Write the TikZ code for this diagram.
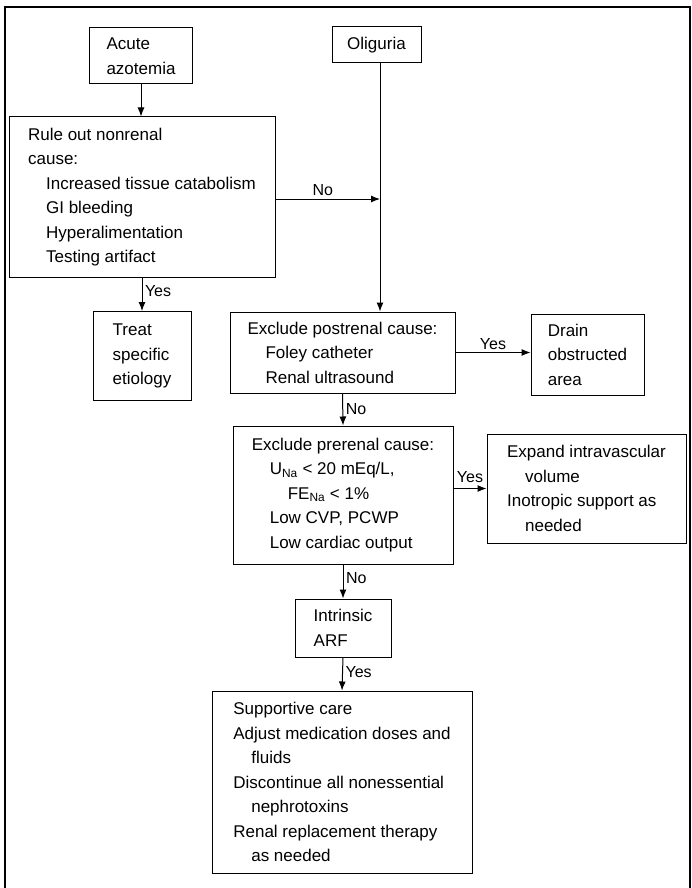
\documentclass[tikz,border=0pt]{standalone}
\usepackage{fontspec}
\setmainfont{Liberation Sans}
\usetikzlibrary{arrows.meta}
\tikzset{
  caixa/.style={draw, line width=1pt, align=left, inner sep=0pt, font=\fontsize{17}{24.5}\selectfont},
  seta/.style={-{Latex[length=9pt,width=7pt]}, line width=1pt},
  rotulo/.style={font=\fontsize{16}{20}\selectfont, inner sep=2.5pt}
}
\newcommand{\recuo}{\hspace*{18pt}}

\begin{document}
\begin{tikzpicture}[x=1pt,y=-1pt] %Unidade de 1pt, y para baixo
\useasboundingbox (0,0) rectangle (691,888);
	%Moldura
\draw[line width=1.2pt] (5,888) -- (5,7) -- (690,7) -- (690,888);
	%Caixas
\node[caixa, minimum width=103pt, minimum height=56pt] (acute) at (141,56) {Acute\\azotemia};
\node[caixa, minimum width=89pt, minimum height=36pt] (oli) at (376.5,45) {Oliguria};
\node[caixa, minimum width=266pt, minimum height=160pt] (rule) at (142,197) {Rule out nonrenal\\cause:\\\recuo Increased tissue catabolism\\\recuo GI bleeding\\\recuo Hyperalimentation\\\recuo Testing artifact};
\node[caixa, minimum width=98pt, minimum height=89pt] (treat) at (142,356) {Treat\\specific\\etiology};
\node[caixa, minimum width=225pt, minimum height=81pt] (post) at (342.5,352.5) {Exclude postrenal cause:\\\recuo Foley catheter\\\recuo Renal ultrasound};
\node[caixa, minimum width=113pt, minimum height=81pt] (drain) at (587.5,354.5) {Drain\\obstructed\\area};
\node[caixa, minimum width=220pt, minimum height=138pt] (pre) at (343,495) {Exclude prerenal cause:\\\recuo U\textsubscript{Na} < 20 mEq/L,\\\recuo\recuo FE\textsubscript{Na} < 1\%\\\recuo Low CVP, PCWP\\\recuo Low cardiac output};
\node[caixa, minimum width=199pt, minimum height=109pt] (exp) at (586.5,488.5) {Expand intravascular\\\recuo volume\\Inotropic support as\\\recuo needed};
\node[caixa, minimum width=96pt, minimum height=58pt] (intr) at (343,628) {Intrinsic\\ARF};
\node[caixa, minimum width=260pt, minimum height=182pt] (supp) at (342,782) {Supportive care\\Adjust medication doses and\\\recuo fluids\\Discontinue all nonessential\\\recuo nephrotoxins\\Renal replacement therapy\\\recuo as needed};
	%Setas
\coordinate (jun) at (380,199); %encontro com a linha da oliguria
\draw[seta] (acute.south) -- (acute.south |- rule.north);
\draw[seta] (rule.east |- jun) -- (jun) node[rotulo, midway, above, xshift=-5pt] {No};
\draw[seta] (oli.south -| jun) -- (jun |- post.north);
\draw[seta] (rule.south) -- (treat.north) node[rotulo, pos=0.4, right] {Yes};
\draw[seta] (post.east) -- (post.east -| drain.west) node[rotulo, midway, above] {Yes};
\draw[seta] (post.south) -- (pre.north) node[rotulo, midway, right] {No};
\draw[seta] (pre.east |- exp.west) -- (exp.west) node[rotulo, midway, above, yshift=3pt] {Yes};
\draw[seta] (pre.south) -- (intr.north) node[rotulo, pos=0.4, right] {No};
\draw[seta] (intr.south) -- (supp.north) node[rotulo, pos=0.45, right] {Yes};
\end{tikzpicture}
\end{document}
